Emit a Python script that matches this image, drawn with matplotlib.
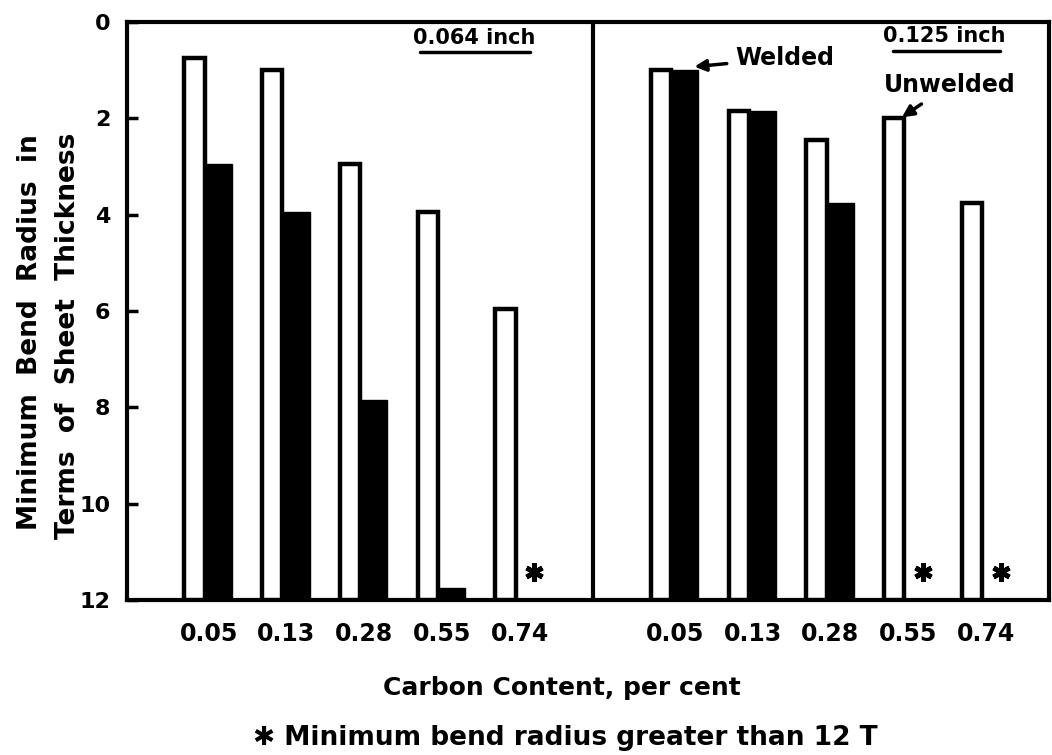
import numpy as np
import matplotlib
matplotlib.use("Agg")
import matplotlib.pyplot as plt

# carbon content groups (same for both sheet thicknesses)
carbon = ["0.05", "0.13", "0.28", "0.55", "0.74"]
# 0.064 inch sheet, min bend radius in T (nan -> greater than 12 T)
thin_unwelded = [0.75, 1.0, 2.95, 3.95, 5.95]
thin_welded = [2.95, 3.95, 7.85, 11.75, np.nan]
# 0.125 inch sheet
thick_unwelded = [1.0, 1.85, 2.45, 2.0, 3.75]
thick_welded = [1.0, 1.85, 3.75, np.nan, np.nan]
y_ticks = [0, 2, 4, 6, 8, 10, 12]
YMAX = 12

plt.rcParams['font.family'] = ['DejaVu Sans']
plt.rcParams['font.weight'] = 'bold'

fig = plt.figure(figsize=(10.52, 7.55), dpi=100)
ax = fig.add_axes([0.1207, 0.2053, 0.8763, 0.7657])

pos_thin = np.arange(5)
pos_thick = np.arange(5) + 6
wu, ww = 0.26, 0.35

for pos, unw, wel in [(pos_thin, thin_unwelded, thin_welded),
                      (pos_thick, thick_unwelded, thick_welded)]:
    unw = np.array(unw)
    wel = np.array(wel)
    ax.bar(pos, unw - YMAX, bottom=YMAX, width=-wu, align='edge',
           facecolor='white', edgecolor='black', linewidth=3.2, zorder=3)
    ok = ~np.isnan(wel)
    ax.bar(pos[ok], wel[ok] - YMAX, bottom=YMAX, width=ww, align='edge',
           color='black', edgecolor='black', linewidth=1, zorder=2)
    # asterisk where the welded value is beyond 12 T
    ax.plot(pos[~ok] + 0.24, np.full((~ok).sum(), 11.42), linestyle='none',
            marker=(6, 2, 0), markersize=13, markeredgewidth=3.5, color='black')

ax.axvline(5, color='black', lw=3)

ax.set_xlim(-1, 10.86)
ax.set_ylim(YMAX, 0)
ax.set_yticks(y_ticks)
ax.set_yticklabels([str(t) for t in y_ticks])
ax.tick_params(axis='y', direction='in', length=8, width=2.5, pad=12, labelsize=16)
ax.set_xticks(np.concatenate([pos_thin, pos_thick]) + 0.05)
ax.set_xticklabels(carbon + carbon)
ax.tick_params(axis='x', length=0, pad=16, labelsize=17)
for s in ax.spines.values():
    s.set_linewidth(3)

# two-line y label
fig.text(30 / 1052, 0.560, "Minimum  Bend  Radius  in", rotation=90, ha='center',
         va='center', fontsize=19, fontweight='bold')
fig.text(68 / 1052, 0.555, "Terms  of  Sheet  Thickness", rotation=90, ha='center',
         va='center', fontsize=19, fontweight='bold')

# panel titles, underlined
ax.text(3.47, 0.33, "0.064 inch", ha='center', va='center', fontsize=15, fontweight='bold')
ax.plot([2.77, 4.18], [0.62, 0.62], color='black', lw=2.5, solid_capstyle='round')
ax.text(9.52, 0.3, "0.125 inch", ha='center', va='center', fontsize=15, fontweight='bold')
ax.plot([8.85, 10.23], [0.6, 0.6], color='black', lw=2.5, solid_capstyle='round')

ax.annotate("Welded", xy=(6.3, 0.93), xytext=(7.46, 0.75), ha='center', va='center',
            fontsize=17, fontweight='bold',
            arrowprops=dict(arrowstyle='-|>', color='black', lw=2.5, shrinkA=4, shrinkB=0))
ax.annotate("Unwelded", xy=(8.97, 1.98), xytext=(9.59, 1.3), ha='center', va='center',
            fontsize=17, fontweight='bold',
            arrowprops=dict(arrowstyle='-|>', color='black', lw=2.5, shrinkA=6, shrinkB=0))

fig.text(0.534, 1 - 688 / 755, "Carbon Content, per cent", ha='center', va='center',
         fontsize=18, fontweight='bold')
fig.text(0.537, 1 - 738 / 755, "\u2731 Minimum bend radius greater than 12 T",
         ha='center', va='center', fontsize=19, fontweight='bold')

fig.savefig("out.png", dpi=100)
